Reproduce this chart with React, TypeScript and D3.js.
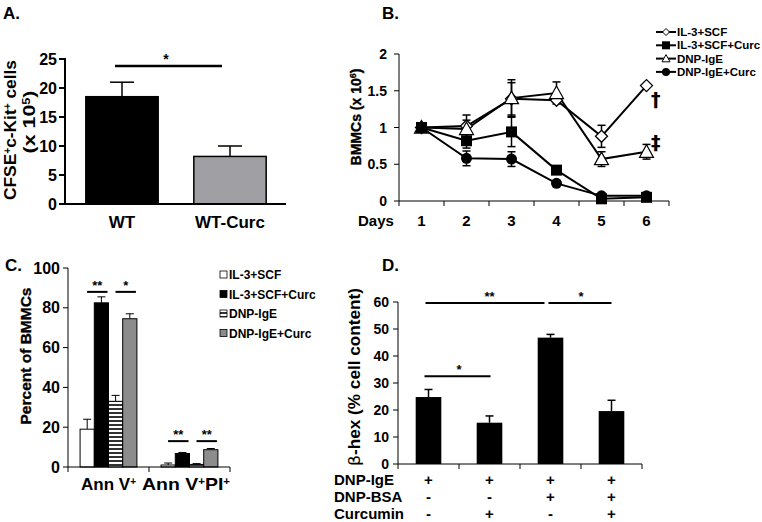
import React from "react";
import * as d3 from "d3";

// ---------- Data ----------
const aCategories = ["WT", "WT-Curc"];
const aValues = [18.5, 8.2];
const aErrors = [2.5, 1.8];
const aTicks = [0, 5, 10, 15, 20, 25];

const bDays = ["1", "2", "3", "4", "5", "6"];
const bSeriesNames = ["IL-3+SCF", "IL-3+SCF+Curc", "DNP-IgE", "DNP-IgE+Curc"];
const bIl3 = [1, 1.02, 1.39, 1.37, 0.88, 1.57];
const bIl3Err = [0, 0.15, 0.22, 0.03, 0.15, 0.02];
const bIl3Curc = [1, 0.82, 0.94, 0.42, 0.03, 0.05];
const bIl3CurcErr = [0, 0.1, 0.2, 0.02, 0.02, 0.02];
const bDnp = [1, 0.98, 1.4, 1.47, 0.57, 0.67];
const bDnpErr = [0, 0.12, 0.25, 0.15, 0.1, 0.1];
const bDnpCurc = [1, 0.58, 0.57, 0.24, 0.07, 0.07];
const bDnpCurcErr = [0, 0.1, 0.1, 0.02, 0.02, 0.02];
const bTicks = [0, 0.5, 1, 1.5, 2];

const cGroups = ["Ann V", "Ann V"];
const cSeriesNames = ["IL-3+SCF", "IL-3+SCF+Curc", "DNP-IgE", "DNP-IgE+Curc"];
const cValues = [
  [19, 82.5, 33, 74.5],
  [1, 6.8, 1.3, 8.7],
];
const cErrors = [
  [5, 3, 3, 2.5],
  [1, 0.5, 0.4, 0.6],
];
const cTicks = [0, 20, 40, 60, 80, 100];

const dValues = [24.8, 15.3, 46.8, 19.6];
const dErrors = [2.8, 2.5, 1.2, 4.0];
const dTicks = [0, 10, 20, 30, 40, 50, 60];
const dRowLabels = ["DNP-IgE", "DNP-BSA", "Curcumin"];
const dSigns = [
  ["+", "+", "+", "+"],
  ["-", "-", "+", "+"],
  ["-", "+", "-", "+"],
];

const FONT = "'Liberation Sans', Arial, sans-serif";

function PanelA() {
  const x = d3.scaleBand().domain(aCategories).range([68, 284]).paddingInner(0.33).paddingOuter(0.165);
  const y = d3.scaleLinear().domain([0, 25]).range([204, 59]);
  const fills = ["#000", "#a0a0a4"];
  return (
    <g>
      <text x={3} y={19} fontSize={17} fontWeight="bold">A.</text>
      {aCategories.map((c, i) => {
        const bx = x(c)!;
        const cx = bx + x.bandwidth() / 2;
        return (
          <g key={c}>
            <line x1={cx} x2={cx} y1={y(aValues[i])} y2={y(aValues[i] + aErrors[i])} stroke="#000" strokeWidth={1.5} />
            <line x1={cx - 12} x2={cx + 12} y1={y(aValues[i] + aErrors[i])} y2={y(aValues[i] + aErrors[i])} stroke="#000" strokeWidth={1.5} />
            <rect x={bx} y={y(aValues[i])} width={x.bandwidth()} height={y(0) - y(aValues[i])} fill={fills[i]} stroke="#000" strokeWidth={1.5} />
            <text x={cx} y={228} textAnchor="middle" fontSize={17} fontWeight="bold">{c}</text>
          </g>
        );
      })}
      <line x1={65} x2={65} y1={58} y2={205} stroke="#000" strokeWidth={2} />
      <line x1={64} x2={286} y1={204} y2={204} stroke="#000" strokeWidth={2} />
      {aTicks.map((t) => (
        <g key={t}>
          <line x1={59} x2={65} y1={y(t)} y2={y(t)} stroke="#000" strokeWidth={2} />
          <text x={57} y={y(t) + 5.5} textAnchor="end" fontSize={16} fontWeight="bold">{t}</text>
        </g>
      ))}
      <line x1={115} x2={222} y1={66} y2={66} stroke="#000" strokeWidth={2.5} />
      <text x={166} y={64} textAnchor="middle" fontSize={14} fontWeight="bold">*</text>
      <text transform="translate(16,130) rotate(-90)" textAnchor="middle" fontSize={17} fontWeight="bold" textLength={140} lengthAdjust="spacingAndGlyphs">
        CFSE<tspan baselineShift="super" fontSize={10}>+</tspan>c-Kit<tspan baselineShift="super" fontSize={10}>+</tspan> cells
      </text>
      <text transform="translate(35,122) rotate(-90)" textAnchor="middle" fontSize={17} fontWeight="bold" textLength={63} lengthAdjust="spacingAndGlyphs">
        (x 10<tspan baselineShift="super" fontSize={10}>5</tspan>)
      </text>
    </g>
  );
}

function Marker({ type, x, y }: { type: number; x: number; y: number }) {
  if (type === 0) {
    const s = 6;
    return <path d={`M${x},${y - s}L${x + s},${y}L${x},${y + s}L${x - s},${y}Z`} fill="#fff" stroke="#000" strokeWidth={1.3} />;
  }
  if (type === 1) return <rect x={x - 5.5} y={y - 5.5} width={11} height={11} fill="#000" />;
  if (type === 2) {
    const s = 7;
    return <path d={`M${x},${y - s}L${x + s},${y + s * 0.8}L${x - s},${y + s * 0.8}Z`} fill="#fff" stroke="#000" strokeWidth={1.2} />;
  }
  return <circle cx={x} cy={y} r={5.5} fill="#000" />;
}

function LegendMarker({ type, x, y }: { type: number; x: number; y: number }) {
  if (type === 0) {
    const s = 3.5;
    return <path d={`M${x},${y - s}L${x + s},${y}L${x},${y + s}L${x - s},${y}Z`} fill="#fff" stroke="#000" strokeWidth={1} />;
  }
  if (type === 1) return <rect x={x - 4} y={y - 4} width={8} height={8} fill="#000" />;
  if (type === 2) {
    const s = 4;
    return <path d={`M${x},${y - s}L${x + s},${y + s * 0.8}L${x - s},${y + s * 0.8}Z`} fill="#fff" stroke="#000" strokeWidth={1} />;
  }
  return <circle cx={x} cy={y} r={4} fill="#000" />;
}

function PanelB() {
  const x = d3.scaleBand().domain(bDays).range([399, 669]);
  const y = d3.scaleLinear().domain([0, 2]).range([201, 54]);
  const series = [
    { v: bIl3, e: bIl3Err },
    { v: bIl3Curc, e: bIl3CurcErr },
    { v: bDnp, e: bDnpErr },
    { v: bDnpCurc, e: bDnpCurcErr },
  ];
  const cx = (d: string) => x(d)! + x.bandwidth() / 2;
  const line = d3.line<number>().x((_, i) => cx(bDays[i])).y((v) => y(v));
  const order = [0, 2, 1, 3];
  return (
    <g>
      <text x={382} y={19} fontSize={17} fontWeight="bold">B.</text>
      <line x1={399} x2={399} y1={54} y2={201} stroke="#000" strokeWidth={1} />
      <line x1={399} x2={669} y1={201} y2={201} stroke="#000" strokeWidth={1} />
      {bTicks.map((t) => (
        <g key={t}>
          <line x1={394} x2={399} y1={y(t)} y2={y(t)} stroke="#000" />
          <text x={387} y={y(t) + 5} textAnchor="end" fontSize={14} fontWeight="bold">{t}</text>
        </g>
      ))}
      {[...bDays.map((d) => x(d)!), 669].map((t, i) => (
        <line key={i} x1={t} x2={t} y1={201} y2={206} stroke="#000" />
      ))}
      {bDays.map((d) => (
        <text key={d} x={cx(d)} y={226} textAnchor="middle" fontSize={15} fontWeight="bold">{d}</text>
      ))}
      <text x={358} y={226} fontSize={15} fontWeight="bold">Days</text>
      <text transform="translate(361,117) rotate(-90)" textAnchor="middle" fontSize={14} fontWeight="bold" stroke="#000" strokeWidth={0.35}>
        BMMCs (x 10<tspan baselineShift="super" fontSize={9}>6</tspan>)
      </text>
      {order.map((si) => {
        const s = series[si];
        return (
          <g key={si}>
            {s.v.map((v, i) =>
              s.e[i] > 0.03 ? (
                <g key={i}>
                  <line x1={cx(bDays[i])} x2={cx(bDays[i])} y1={y(v - s.e[i])} y2={y(v + s.e[i])} stroke="#000" strokeWidth={1.5} />
                  <line x1={cx(bDays[i]) - 4} x2={cx(bDays[i]) + 4} y1={y(v + s.e[i])} y2={y(v + s.e[i])} stroke="#000" strokeWidth={1.5} />
                  <line x1={cx(bDays[i]) - 4} x2={cx(bDays[i]) + 4} y1={y(v - s.e[i])} y2={y(v - s.e[i])} stroke="#000" strokeWidth={1.5} />
                </g>
              ) : null
            )}
            <path d={line(s.v)!} fill="none" stroke="#000" strokeWidth={2} />
          </g>
        );
      })}
      {order.map((si) => (
        <g key={si}>
          {series[si].v.map((v, i) => (
            <Marker key={i} type={si} x={cx(bDays[i])} y={y(v)} />
          ))}
        </g>
      ))}
      <text x={651} y={106} fontSize={19} fontWeight="bold" fontFamily="'DejaVu Sans', sans-serif" fill="#000">†</text>
      <text x={651} y={149} fontSize={19} fontWeight="bold" fontFamily="'DejaVu Sans', sans-serif" fill="#000">‡</text>
      {bSeriesNames.map((n, i) => {
        const ly = 32 + i * 13.3;
        return (
          <g key={n}>
            <line x1={656} x2={676} y1={ly} y2={ly} stroke="#000" strokeWidth={2} />
            <LegendMarker type={i} x={666} y={ly} />
            <text x={677} y={ly + 4} fontSize={11.5} fontWeight="bold">{n}</text>
          </g>
        );
      })}
    </g>
  );
}

function PanelC() {
  const x0 = d3.scaleBand().domain(["g0", "g1"]).range([68, 230]);
  const x1 = d3.scaleBand().domain(cSeriesNames).range([0, x0.bandwidth()]).paddingOuter(0.85).paddingInner(0);
  const y = d3.scaleLinear().domain([0, 100]).range([467, 268]);
  const fills = ["#fff", "#000", "url(#stripes)", "#8c8c8c"];
  const sig = [
    { g: 0, a: 0, b: 1, v: 88, t: "**" },
    { g: 0, a: 2, b: 3, v: 88, t: "*" },
    { g: 1, a: 0, b: 1, v: 13, t: "**" },
    { g: 1, a: 2, b: 3, v: 13, t: "**" },
  ];
  return (
    <g>
      <defs>
        <pattern id="stripes" width={6} height={4} patternUnits="userSpaceOnUse">
          <rect width={6} height={4} fill="#fff" />
          <line x1={0} x2={6} y1={1} y2={1} stroke="#000" strokeWidth={1.6} />
        </pattern>
      </defs>
      <text x={5} y={271} fontSize={17} fontWeight="bold">C.</text>
      {cValues.map((vals, g) =>
        vals.map((v, i) => {
          const bx = x0("g" + g)! + x1(cSeriesNames[i])!;
          const w = x1.bandwidth();
          const c = bx + w / 2;
          return (
            <g key={g + "-" + i}>
              <line x1={c} x2={c} y1={y(v)} y2={y(v + cErrors[g][i])} stroke="#000" strokeWidth={1} />
              <line x1={c - 4} x2={c + 4} y1={y(v + cErrors[g][i])} y2={y(v + cErrors[g][i])} stroke="#000" strokeWidth={1} />
              <rect x={bx} y={y(v)} width={w} height={y(0) - y(v)} fill={fills[i]} stroke="#000" strokeWidth={1} />
            </g>
          );
        })
      )}
      <line x1={68} x2={68} y1={268} y2={467} stroke="#000" />
      <line x1={68} x2={230} y1={467} y2={467} stroke="#000" />
      {cTicks.map((t) => (
        <g key={t}>
          <line x1={63} x2={68} y1={y(t)} y2={y(t)} stroke="#000" />
          <text x={60} y={y(t) + 5.5} textAnchor="end" fontSize={16} fontWeight="bold">{t}</text>
        </g>
      ))}
      {[68, 149, 230].map((t) => (
        <line key={t} x1={t} x2={t} y1={467} y2={472} stroke="#000" />
      ))}
      {sig.map((s, k) => {
        const ga = x0("g" + s.g)!;
        const xa = ga + x1(cSeriesNames[s.a])! + 2;
        const xb = ga + x1(cSeriesNames[s.b])! + x1.bandwidth() - 2;
        return (
          <g key={k}>
            <line x1={xa + 5} x2={xb + 1} y1={y(s.v)} y2={y(s.v)} stroke="#000" strokeWidth={2} />
            <text x={(xa + xb) / 2 + 3} y={y(s.v) - 2} textAnchor="middle" fontSize={13} fontWeight="bold">{s.t}</text>
          </g>
        );
      })}
      <text x={x0("g0")! + x0.bandwidth() / 2} y={490} textAnchor="middle" fontSize={17} fontWeight="bold">
        {cGroups[0]}<tspan baselineShift="super" fontSize={10}>+</tspan>
      </text>
      <text x={186} y={490} textAnchor="middle" fontSize={17} fontWeight="bold" textLength={88} lengthAdjust="spacingAndGlyphs">
        {cGroups[1]}<tspan baselineShift="super" fontSize={10}>+</tspan>PI<tspan baselineShift="super" fontSize={10}>+</tspan>
      </text>
      <text transform="translate(31,356) rotate(-90)" textAnchor="middle" fontSize={15.5} fontWeight="bold" stroke="#000" strokeWidth={0.35}>Percent of BMMCs</text>
      {cSeriesNames.map((n, i) => {
        const ly = 275 + i * 19.5;
        return (
          <g key={n}>
            <rect x={220} y={ly - 4} width={7} height={7} fill={i === 2 ? "url(#stripes)" : fills[i]} stroke="#000" strokeWidth={0.8} />
            <text x={229} y={ly + 4} fontSize={12} fontWeight="bold">{n}</text>
          </g>
        );
      })}
    </g>
  );
}

function PanelD() {
  const cats = ["c0", "c1", "c2", "c3"];
  const x = d3.scaleBand().domain(cats).range([398, 642]).paddingInner(0.58).paddingOuter(0.29);
  const xb = d3.scaleBand().domain(cats).range([398, 642]);
  const y = d3.scaleLinear().domain([0, 60]).range([464, 302]);
  const cx = (i: number) => x(cats[i])! + x.bandwidth() / 2;
  const sig = [
    { a: 0, b: 2, v: 59.6, t: "**", x0: -3, x1: -6 },
    { a: 2, b: 3, v: 59.6, t: "*", x0: -2, x1: 0 },
    { a: 0, b: 1, v: 32.5, t: "*", x0: -4, x1: 1 },
  ];
  return (
    <g>
      <text x={382} y={271} fontSize={17} fontWeight="bold">D.</text>
      {dValues.map((v, i) => (
        <g key={i}>
          <line x1={cx(i)} x2={cx(i)} y1={y(v)} y2={y(v + dErrors[i])} stroke="#000" strokeWidth={1.5} />
          <line x1={cx(i) - 4} x2={cx(i) + 4} y1={y(v + dErrors[i])} y2={y(v + dErrors[i])} stroke="#000" strokeWidth={1.5} />
          <rect x={x(cats[i])!} y={y(v)} width={x.bandwidth()} height={y(0) - y(v)} fill="#000" />
        </g>
      ))}
      <line x1={398} x2={398} y1={302} y2={464} stroke="#000" />
      <line x1={398} x2={642} y1={464} y2={464} stroke="#000" />
      {dTicks.map((t) => (
        <g key={t}>
          <line x1={393} x2={398} y1={y(t)} y2={y(t)} stroke="#000" />
          <text x={389} y={y(t) + 5} textAnchor="end" fontSize={14} fontWeight="bold">{t}</text>
        </g>
      ))}
      {[...cats.map((c) => xb(c)!), 642].map((t, i) => (
        <line key={i} x1={t} x2={t} y1={464} y2={469} stroke="#000" />
      ))}
      {sig.map((s, k) => (
        <g key={k}>
          <line x1={cx(s.a) + s.x0} x2={cx(s.b) + s.x1} y1={y(s.v)} y2={y(s.v)} stroke="#000" strokeWidth={2} />
          <text x={(cx(s.a) + cx(s.b)) / 2} y={y(s.v) - 2} textAnchor="middle" fontSize={13} fontWeight="bold">{s.t}</text>
        </g>
      ))}
      <text transform="translate(360,377) rotate(-90)" textAnchor="middle" fontSize={16.5} fontWeight="bold" textLength={178} lengthAdjust="spacingAndGlyphs">
        <tspan fontFamily="'DejaVu Sans', sans-serif" fontWeight="normal">β</tspan>-hex (% cell content)
      </text>
      {dRowLabels.map((r, ri) => (
        <g key={r}>
          <text x={334} y={485 + ri * 17} fontSize={15} fontWeight="bold">{r}</text>
          {dSigns[ri].map((s, i) => (
            <text key={i} x={cx(i)} y={485 + ri * 17} textAnchor="middle" fontSize={15} fontWeight="bold">{s}</text>
          ))}
        </g>
      ))}
    </g>
  );
}

export default function App() {
  return (
    <svg
      width={762}
      height={522}
      viewBox="0 0 762 522"
      style={{ position: "absolute", left: 0, top: 0, background: "#fff" }}
      fontFamily={FONT}
    >
      <rect width={762} height={522} fill="#fff" />
      <PanelA />
      <PanelB />
      <PanelC />
      <PanelD />
    </svg>
  );
}
